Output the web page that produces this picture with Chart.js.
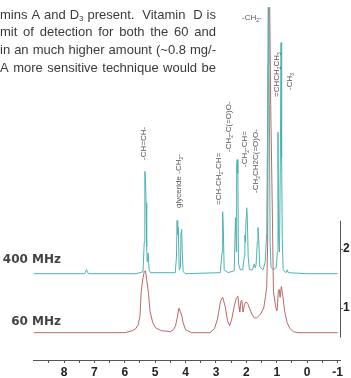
<!DOCTYPE html>
<html lang="en">
<head>
<meta charset="UTF-8">
<title>1H NMR 400 MHz vs 60 MHz</title>
<script src="https://cdn.jsdelivr.net/npm/chart.js"></script>
<style>
  html, body { margin: 0; padding: 0; background: #fff; }
  #wrap { width: 351px; height: 378px; position: relative; }
</style>
</head>
<body>
<div id="wrap"><canvas id="nmr"></canvas></div>

<script>
// chemical shift (ppm) and intensity
const ppm400 = [9.0, 7.32, 7.26, 7.20, 5.62, 5.50, 5.40, 5.36, 5.34, 5.32, 5.30, 5.28, 5.26, 5.23, 5.20, 5.15,
  4.34, 4.30, 4.28, 4.26, 4.24, 4.21, 4.17, 4.15, 4.13, 4.11, 4.08, 4.00,
  2.86, 2.80, 2.78, 2.76, 2.73, 2.60, 2.40, 2.36, 2.33, 2.32, 2.30, 2.28, 2.26, 2.20,
  2.12, 2.07, 2.05, 2.03, 2.01, 1.99, 1.97, 1.94, 1.90, 1.80, 1.74, 1.71, 1.68, 1.64, 1.62, 1.60, 1.56,
  1.45, 1.38, 1.33, 1.30, 1.28, 1.26, 1.24, 1.22, 1.19, 1.12, 1.02,
  0.98, 0.96, 0.94, 0.91, 0.88, 0.86, 0.84, 0.82, 0.79, 0.70, 0.66, 0.62, 0.00, -1.0];
const int400 = [1.583, 1.583, 1.65, 1.583, 1.583, 1.60, 1.617, 2.117, 3.317, 3.2, 2.783, 2.033, 1.783, 1.933, 1.65, 1.60,
  1.60, 1.867, 2.483, 2.25, 2.367, 1.65, 1.683, 2.283, 2.333, 1.95, 1.617, 1.583,
  1.60, 1.95, 2.633, 2.367, 1.65, 1.60, 1.633, 2.533, 1.95, 3.45, 3.517, 3.283, 1.75, 1.65,
  1.65, 1.867, 2.233, 2.117, 2.533, 2.70, 2.533, 1.867, 1.65, 1.65, 1.75, 1.683, 1.733, 2.117, 2.367, 2.25, 1.70,
  1.65, 1.783, 2.283, 4.45, 6.5, 6.5, 4.117, 2.117, 1.70, 1.65, 1.683,
  1.95, 3.98, 2.2, 1.95, 3.7, 5.5, 3.55, 2.2, 1.65, 1.60, 1.65, 1.60, 1.583, 1.583];

const ppm60 = [9.0, 6.0, 5.75, 5.64, 5.56, 5.50, 5.46, 5.40, 5.36, 5.32, 5.27, 5.22, 5.17, 5.08, 4.99, 4.80,
  4.50, 4.40, 4.33, 4.27, 4.22, 4.18, 4.13, 4.08, 4.00, 3.80, 3.20, 3.05, 2.95, 2.85, 2.78, 2.70, 2.62,
  2.55, 2.48, 2.40, 2.33, 2.28, 2.24, 2.22, 2.18, 2.15, 2.11, 2.06, 2.02, 1.96, 1.90, 1.82, 1.74, 1.66,
  1.53, 1.43, 1.37, 1.33, 1.30, 1.28, 1.26, 1.24, 1.20, 1.15, 1.11, 1.05, 1.00, 0.98, 0.95, 0.92, 0.89,
  0.85, 0.80, 0.74, 0.66, 0.56, 0.45, 0.30, -1.0];
const int60 = [0.583, 0.583, 0.617, 0.65, 0.717, 0.867, 1.283, 1.517, 1.617, 1.633, 1.45, 1.25, 0.95, 0.75, 0.667, 0.617,
  0.60, 0.633, 0.70, 0.85, 1.0, 0.95, 0.883, 0.75, 0.633, 0.583, 0.583, 0.65, 0.817, 1.117, 1.183, 1.033, 0.783,
  0.70, 0.817, 1.033, 1.167, 1.20, 1.017, 0.933, 1.117, 1.133, 0.933, 1.067, 1.10, 1.083, 1.0, 0.90, 0.833, 0.833,
  0.90, 1.0, 1.2, 1.367, 2.117, 5.117, 6.5, 6.5, 4.45, 2.78, 1.283, 1.067, 0.95, 1.017, 1.283, 1.317, 1.183,
  1.367, 1.20, 0.95, 0.75, 0.65, 0.60, 0.583, 0.583];

const seriesNames = ['400 MHz', '60 MHz'];
const xTickValues = [8.5, 8, 7.5, 7, 6.5, 6, 5.5, 5, 4.5, 4, 3.5, 3, 2.5, 2, 1.5, 1, 0.5, 0, -0.5, -1];
const yTickValues = [1, 2];

// peak assignments, "_n" = subscript
const peakLabels = [
  { text: '-CH=CH-', x: 144, y: 160 },
  { text: 'glyceride -CH_2-', x: 179, y: 208 },
  { text: '=CH-CH_2-CH=', x: 219, y: 205 },
  { text: '-CH_2-C(=O)O-', x: 229, y: 152 },
  { text: '-CH_2-CH=', x: 245, y: 167 },
  { text: '-CH_2CH2C(=O)O-', x: 256, y: 193 },
  { text: '=CHCH_2CH_3', x: 277, y: 97 },
  { text: '-CH_3', x: 290, y: 90 }
];
const paraLines = [
  'mins A and D_3 present.  Vitamin  D is',
  'mit of detection for both the 60 and',
  'in an much higher amount (~0.8 mg/-',
  'A more sensitive technique would be'
];

const FAM = '"Liberation Sans", Arial, sans-serif';
const toPts = (xs, ys) => xs.map((x, i) => ({ x: x, y: ys[i] }));

function drawRich(ctx, str, x, y, size, fam, draw) {
  const parts = str.split(/_(\d)/);
  parts.forEach((p, i) => {
    if (!p) return;
    if (i % 2 === 1) {
      ctx.font = Math.round(size * 0.62) + 'px ' + fam;
      if (draw !== false) ctx.fillText(p, x, y + size * 0.3);
    } else {
      ctx.font = size + 'px ' + fam;
      if (draw !== false) ctx.fillText(p, x, y);
    }
    x += ctx.measureText(p).width;
  });
  return x;
}

const annotations = {
  id: 'annotations',
  afterDraw(chart) {
    const ctx = chart.ctx;
    const ys = chart.scales.y;
    ctx.save();
    // partial right axis line
    ctx.strokeStyle = '#555';
    ctx.lineWidth = 1;
    ctx.beginPath();
    ctx.moveTo(ys.left + 0.5, ys.getPixelForValue(0.5));
    ctx.lineTo(ys.left + 0.5, ys.getPixelForValue(2.48));
    ctx.stroke();

    // paragraph text, justified to ~216 px
    ctx.fillStyle = '#3a3a3a';
    ctx.textBaseline = 'middle';
    ctx.textAlign = 'left';
    paraLines.forEach((l, i) => {
      const y = 15 + i * 17.7;
      const parts = l.split(/(_\d|\s)/).filter(s => s);
      // draw word by word with extra gap on spaces
      const spaces = parts.filter(s => s === ' ').length;
      let natural = drawRich(ctx, l, 0, y, 13, FAM, false);
      const extra = spaces ? Math.max(0, (216 - natural) / spaces) : 0;
      let x = 0;
      parts.forEach(p => {
        if (p === ' ') {
          ctx.font = '13px ' + FAM;
          x += ctx.measureText(' ').width + extra;
        } else if (p[0] === '_') {
          x = drawRich(ctx, p, x, y, 13, FAM);
        } else {
          x = drawRich(ctx, p, x, y, 13, FAM);
        }
      });
    });

    // peak labels
    ctx.fillStyle = '#555';
    peakLabels.forEach(p => {
      ctx.save();
      ctx.translate(p.x, p.y);
      ctx.rotate(-Math.PI / 2);
      drawRich(ctx, p.text, 0, 0, 8, FAM);
      ctx.restore();
    });
    drawRich(ctx, '-CH_2-', 242, 18, 8, FAM);

    // series names
    ctx.fillStyle = '#444';
    ctx.font = 'bold 12px "DejaVu Sans", sans-serif';
    ctx.textAlign = 'right';
    ctx.fillText(seriesNames[0], 61, 260);
    ctx.fillText(seriesNames[1], 61, 322);
    ctx.restore();
  }
};

new Chart(document.getElementById('nmr'), {
  type: 'line',
  data: {
    datasets: [
      { label: seriesNames[0], data: toPts(ppm400, int400), borderColor: '#4fb3b3', borderWidth: 1, pointRadius: 0, tension: 0 },
      { label: seriesNames[1], data: toPts(ppm60, int60), borderColor: '#b96a6a', borderWidth: 1, pointRadius: 0, tension: 0 }
    ]
  },
  options: {
    responsive: true,
    maintainAspectRatio: false,
    animation: false,
    layout: { padding: { left: 33, top: 0, right: 0, bottom: 0 } },
    plugins: { legend: { display: false }, tooltip: { enabled: false } },
    scales: {
      x: {
        type: 'linear',
        reverse: true,
        min: -1.08,
        max: 9.02,
        afterBuildTicks: s => { s.ticks = xTickValues.map(v => ({ value: v })); },
        afterFit: s => { s.height = 18; },
        grid: { drawOnChartArea: false, tickLength: 3, color: '#555' },
        border: { color: '#555' },
        ticks: {
          autoSkip: false,
          maxRotation: 0,
          padding: 2,
          color: '#222',
          font: { family: FAM, size: 12, weight: 'bold' },
          callback: v => Number.isInteger(v) ? String(v) : ''
        }
      },
      y: {
        position: 'right',
        min: 0.12,
        max: 6.1,
        afterBuildTicks: s => { s.ticks = yTickValues.map(v => ({ value: v })); },
        afterFit: s => { s.width = 11; },
        grid: { drawOnChartArea: false, tickLength: 3, color: '#555' },
        border: { display: false },
        ticks: {
          padding: 0,
          color: '#222',
          font: { family: FAM, size: 12, weight: 'bold' }
        }
      }
    }
  },
  plugins: [annotations]
});
</script>
</body>
</html>
